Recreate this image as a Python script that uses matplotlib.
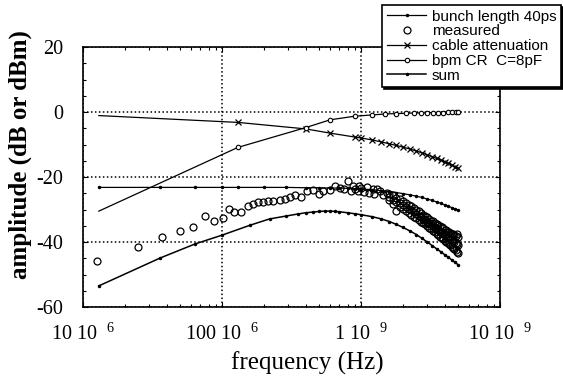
import matplotlib
matplotlib.use('Agg')
import matplotlib.pyplot as plt
from matplotlib.ticker import LogLocator, MultipleLocator, NullFormatter

plt.rcParams['font.family'] = ['Liberation Serif', 'DejaVu Serif']
plt.rcParams['mathtext.fontset'] = 'custom'
plt.rcParams['mathtext.rm'] = 'Liberation Serif'
plt.rcParams['mathtext.it'] = 'Liberation Serif:italic'

# ---- data (frequency in MHz, amplitude in dB) ----
bunch_mhz = [13, 36, 64, 100, 130, 200, 290, 400, 500, 600, 700, 800, 900, 1000, 1200,
             1400, 1600, 1800, 2000, 2250, 2500, 2750, 3000, 3250, 3500, 3750, 4000,
             4250, 4500, 4750, 5000]
bunch_db = [-23.2, -23.2, -23.2, -23.2, -23.2, -23.2, -23.2, -23.3, -23.3, -23.4, -23.4,
            -23.5, -23.6, -23.7, -23.9, -24.2, -24.5, -24.8, -25.1, -25.5, -25.9, -26.3,
            -26.8, -27.2, -27.7, -28.1, -28.6, -29.0, -29.4, -29.8, -30.2]

cable_mhz = [13, 130, 400, 600, 900, 1000, 1200, 1400, 1600, 1800, 2000, 2250, 2500,
             2750, 3000, 3250, 3500, 3750, 4000, 4250, 4500, 4750, 5000]
cable_db = [-1.1, -3.2, -5.2, -6.5, -7.7, -8.0, -8.6, -9.2, -9.8, -10.3, -10.8, -11.4,
            -12.0, -12.6, -13.2, -13.7, -14.3, -14.8, -15.3, -15.8, -16.3, -16.8, -17.3]

bpm_mhz = [13, 130, 400, 600, 900, 1200, 1500, 1800, 2100, 2400, 2700, 3000, 3300,
           3600, 3900, 4200, 4500, 4800, 5000]
bpm_db = [-30.5, -10.9, -4.8, -2.4, -1.3, -0.9, -0.6, -0.5, -0.4, -0.3, -0.3, -0.2,
          -0.2, -0.2, -0.2, -0.1, -0.1, -0.1, -0.1]

sum_mhz = [13, 36, 64, 100, 160, 220, 290, 350, 400, 450, 500, 550, 600, 650, 700, 800,
           900, 1000, 1200, 1400, 1600, 1800, 2000, 2250, 2500, 2750, 3000, 3250, 3500,
           3750, 4000, 4250, 4500, 4750, 5000]
sum_db = [-53.5, -44.9, -40.6, -37.9, -34.8, -32.9, -32.0, -31.4, -31.0, -30.8, -30.6,
          -30.5, -30.5, -30.6, -30.7, -31.0, -31.3, -31.6, -32.2, -32.9, -33.7, -34.6,
          -35.5, -36.6, -37.7, -38.9, -40.0, -41.1, -42.1, -43.0, -43.9, -44.7, -45.5,
          -46.3, -47.0]

# measured points, low frequency part
meas_mhz = [12.6, 24.9, 37, 50, 62, 76, 88, 101, 112, 122, 137, 154, 167, 182, 197, 214,
            233, 261, 284, 308, 335, 369, 410, 449, 497, 532, 596, 647, 703, 750, 801,
            850, 869, 900, 950, 974, 1000, 1050, 1098, 1150, 1213, 1250, 1300, 1364,
            1450, 1535]
meas_db = [-45.9, -41.6, -38.5, -36.7, -35.4, -32.1, -33.6, -32.7, -29.9, -30.8, -30.8,
           -29.0, -28.4, -27.8, -27.8, -27.5, -27.5, -27.1, -26.7, -26.3, -25.6, -26.0,
           -24.4, -24.0, -25.3, -24.2, -23.9, -22.8, -23.3, -23.8, -21.3, -24.2, -22.7,
           -23.8, -24.4, -22.7, -23.5, -24.6, -23.2, -24.9, -23.8, -25.2, -23.6, -24.2,
           -25.6, -24.8]

# measured points, dense band above 1.6 GHz (upper / middle / lower rows)
band_mhz = [1600, 1700, 1800, 1900, 2000, 2100, 2200, 2300, 2400, 2500, 2600, 2700,
            2800, 2900, 3000, 3100, 3200, 3300, 3400, 3500, 3600, 3700, 3800, 3900,
            4000, 4100, 4200, 4300, 4400, 4500, 4600, 4700, 4800, 4900, 5000]
band_hi = [-25.2, -25.6, -26.4, -26.8, -27.4, -28.0, -28.6, -29.0, -29.6, -30.2, -30.6,
           -31.0, -31.6, -32.0, -32.4, -32.8, -33.4, -33.6, -34.0, -34.4, -34.8, -35.2,
           -35.4, -35.8, -36.2, -36.4, -36.8, -37.0, -37.2, -37.4, -37.6, -37.8, -38.0,
           -37.6, -38.4]
band_mid = [-26.0, -27.1, -27.8, -28.1, -28.5, -29.2, -29.9, -30.3, -30.8, -31.4, -31.9,
            -32.3, -32.9, -33.2, -33.7, -34.3, -34.6, -35.1, -35.6, -35.8, -36.3, -36.8,
            -37.0, -37.4, -37.9, -38.1, -38.6, -38.8, -39.1, -39.4, -39.8, -40.1, -40.2,
            -40.5, -40.9]
band_lo = [-27.0, -28.4, -30.6, -29.2, -29.8, -30.6, -31.0, -31.8, -32.2, -32.6, -33.2,
           -33.8, -34.2, -34.6, -35.2, -35.6, -36.0, -36.6, -37.0, -37.4, -37.8, -38.4,
           -38.8, -39.2, -39.6, -40.0, -40.2, -40.6, -41.0, -41.4, -41.8, -42.2, -42.6,
           -43.0, -43.4]

x_ticks = [1e7, 1e8, 1e9, 1e10]
x_tick_base = ['10 10', '100 10', '1 10', '10 10']
x_tick_exp = ['6', '6', '9', '9']
y_ticks = [20, 0, -20, -40, -60]
y_tick_labels = ['20', '0', '-20', '-40', '-60']

labels = ['bunch length 40ps', 'measured', 'cable attenuation', 'bpm CR  C=8pF', 'sum']


def hz(mhz):
    return [v * 1e6 for v in mhz]


fig = plt.figure(figsize=(5.63, 3.76), dpi=100)
ax = fig.add_axes([83 / 563, 69 / 376, 417 / 563, 260 / 376])

#model curves
h_bunch, = ax.plot(hz(bunch_mhz), bunch_db, color='black', lw=0.9, marker='.', ms=3)
h_cable, = ax.plot(hz(cable_mhz), cable_db, color='black', lw=0.9, marker='x', ms=4,
                   mew=0.9, markevery=slice(1, None))
h_bpm, = ax.plot(hz(bpm_mhz), bpm_db, color='black', lw=0.9, marker='o', ms=3.2,
                 mfc='white', mew=0.8, markevery=slice(1, None))
h_sum, = ax.plot(hz(sum_mhz), sum_db, color='black', lw=1.1, marker='.', ms=3)

#measured data
meas_style = dict(ls='none', marker='o', ms=5, mfc='none', mec='black', mew=0.9)
h_meas, = ax.plot(hz(meas_mhz), meas_db, **meas_style)
ax.plot(hz(band_mhz), band_hi, **meas_style)
ax.plot(hz(band_mhz), band_mid, **meas_style)
ax.plot(hz(band_mhz), band_lo, **meas_style)

ax.set_xscale('log')
ax.set_xlim(1e7, 1e10)
ax.set_ylim(-60, 20)

ax.set_xticks(x_ticks)
ax.set_xticklabels([b + '  $^{' + e + '}$' for b, e in zip(x_tick_base, x_tick_exp)])
ax.xaxis.set_minor_locator(LogLocator(base=10, subs=range(2, 10)))
ax.xaxis.set_minor_formatter(NullFormatter())
ax.set_yticks(y_ticks)
ax.set_yticklabels(y_tick_labels)
ax.yaxis.set_minor_locator(MultipleLocator(5))

ax.tick_params(which='both', direction='in', top=True, right=True, width=0.8,
               labelsize=14.5)
ax.tick_params(which='major', length=3.5)
ax.tick_params(which='minor', length=2.5)
ax.tick_params(axis='x', pad=12)
ax.tick_params(axis='y', pad=14)

for s in ax.spines.values():
    s.set_linewidth(1.2)

ax.grid(which='major', color='black', linestyle=(0, (1, 1.6)), linewidth=1.1)

ax.set_xlabel('frequency (Hz)', fontsize=18)
ax.xaxis.set_label_coords(0.537, -0.173)
ax.set_ylabel('amplitude (dB or dBm)', fontsize=18, fontweight='bold')
ax.yaxis.set_label_coords(-0.122, 0.585)

leg = fig.legend([h_bunch, h_meas, h_cable, h_bpm, h_sum], labels,
                 loc='upper right', bbox_to_anchor=(561 / 563, 1 - 5 / 376),
                 prop={'family': 'Liberation Sans', 'size': 11},
                 fancybox=False, edgecolor='black', framealpha=1,
                 borderpad=0.3, labelspacing=0.05, handlelength=2.6,
                 handletextpad=0.35, borderaxespad=0,
                 shadow={'ox': 1.5, 'oy': -1.5, 'color': 'black', 'alpha': 1})
leg.get_frame().set_linewidth(1.2)

plt.savefig('out.png', dpi=100)
plt.close()
